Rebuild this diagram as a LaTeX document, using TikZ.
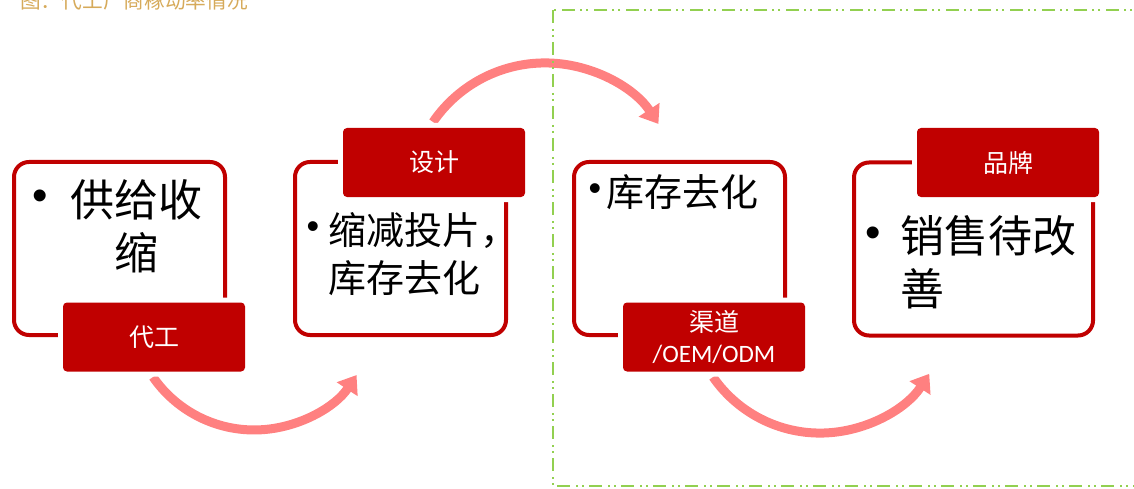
\documentclass[tikz,border=0pt]{standalone}
\usepackage{fontspec}
\setmainfont{Carlito}
\newfontfamily\cjk{Noto Sans CJK SC}
\newfontfamily\bulfont{Liberation Sans}
\usetikzlibrary{arrows.meta}
\definecolor{boxred}{RGB}{192,0,0}
\definecolor{arrowpink}{RGB}{255,128,128}
\definecolor{dashgreen}{RGB}{146,208,80}
\definecolor{titlegold}{RGB}{214,170,90}
\begin{document}
\begin{tikzpicture}[x=1pt,y=1pt,
  frame/.style={draw=boxred, line width=4pt, rounded corners=15pt, minimum width=211pt, minimum height=173pt, inner sep=0pt, outer sep=0pt},
  tag/.style={fill=boxred, text=white, rounded corners=4pt, minimum width=182pt, minimum height=69pt, inner sep=0pt, align=center, preaction={draw=white, line width=10pt}, font=\fontsize{25}{31}\selectfont},
  flow/.style={draw=arrowpink, line width=9pt, -{Triangle[width=24pt,length=17pt]}},
  bigtext/.style={inner sep=0pt, font=\cjk\fontsize{44}{53}\selectfont},
  midtext/.style={inner sep=0pt, font=\cjk\fontsize{38}{48}\selectfont},
  bigdot/.style={inner sep=0pt, font=\bulfont\fontsize{44}{44}\selectfont},
  middot/.style={inner sep=0pt, font=\bulfont\fontsize{36}{36}\selectfont},
  groupframe/.style={draw=dashgreen, line width=2pt, dash pattern=on 13pt off 6pt on 2pt off 4pt on 2pt off 5pt}
]
\useasboundingbox (0,0) rectangle (1134,-489);

% title
\node[anchor=west, text=titlegold, inner sep=0pt, font=\cjk\fontsize{20.7}{21}\selectfont] (title) at (20,-1) {图：代工厂商稼动率情况};

% arrows
\coordinate (a1) at (153,-377);
\coordinate (a2) at (433,-122);
\coordinate (a3) at (713,-377);
\draw[flow] (a1) arc[start angle=214.7, end angle=326.4, radius=123];
\draw[flow] (a2) arc[start angle=145.6, end angle=33.4, radius=135.8];
\draw[flow] (a3) arc[start angle=214.7, end angle=327, radius=130.2];

% frames
\node[frame] (f1) at (119.5,-248.5) {};
\node[frame] (f2) at (400.5,-248.5) {};
\node[frame] (f3) at (679.5,-248.5) {};
\node[frame, minimum width=239pt] (f4) at (973.5,-249) {};

% labels
\node[tag] (t1) at (154,-337) {\cjk 代工};
\node[tag] (t2) at (434,-162.5) {\cjk 设计};
\node[tag] (t3) at (714,-337) {{\cjk 渠道}\\/OEM/ODM};
\node[tag] (t4) at (1008,-162.5) {\cjk 品牌};

% contents
\node[bigdot] (d1) at (40,-200) {•};
\node[bigtext, align=center] (x1) at (136,-226) {供给收\\缩};
\node[middot] (d2) at (313,-230) {•};
\node[midtext, anchor=west, align=left] (x2) at (328,-254) {缩减投片，\\库存去化};
\node[middot] (d3) at (595,-192) {•};
\node[midtext, anchor=west] (x3) at (606,-192) {库存去化};
\node[bigdot] (d4) at (873,-237) {•};
\node[bigtext, anchor=west, align=left] (x4) at (900,-262.5) {销售待改\\善};

% dashed group
\draw[groupframe] (553,-10) rectangle (1160,-486);
\end{tikzpicture}
\end{document}
